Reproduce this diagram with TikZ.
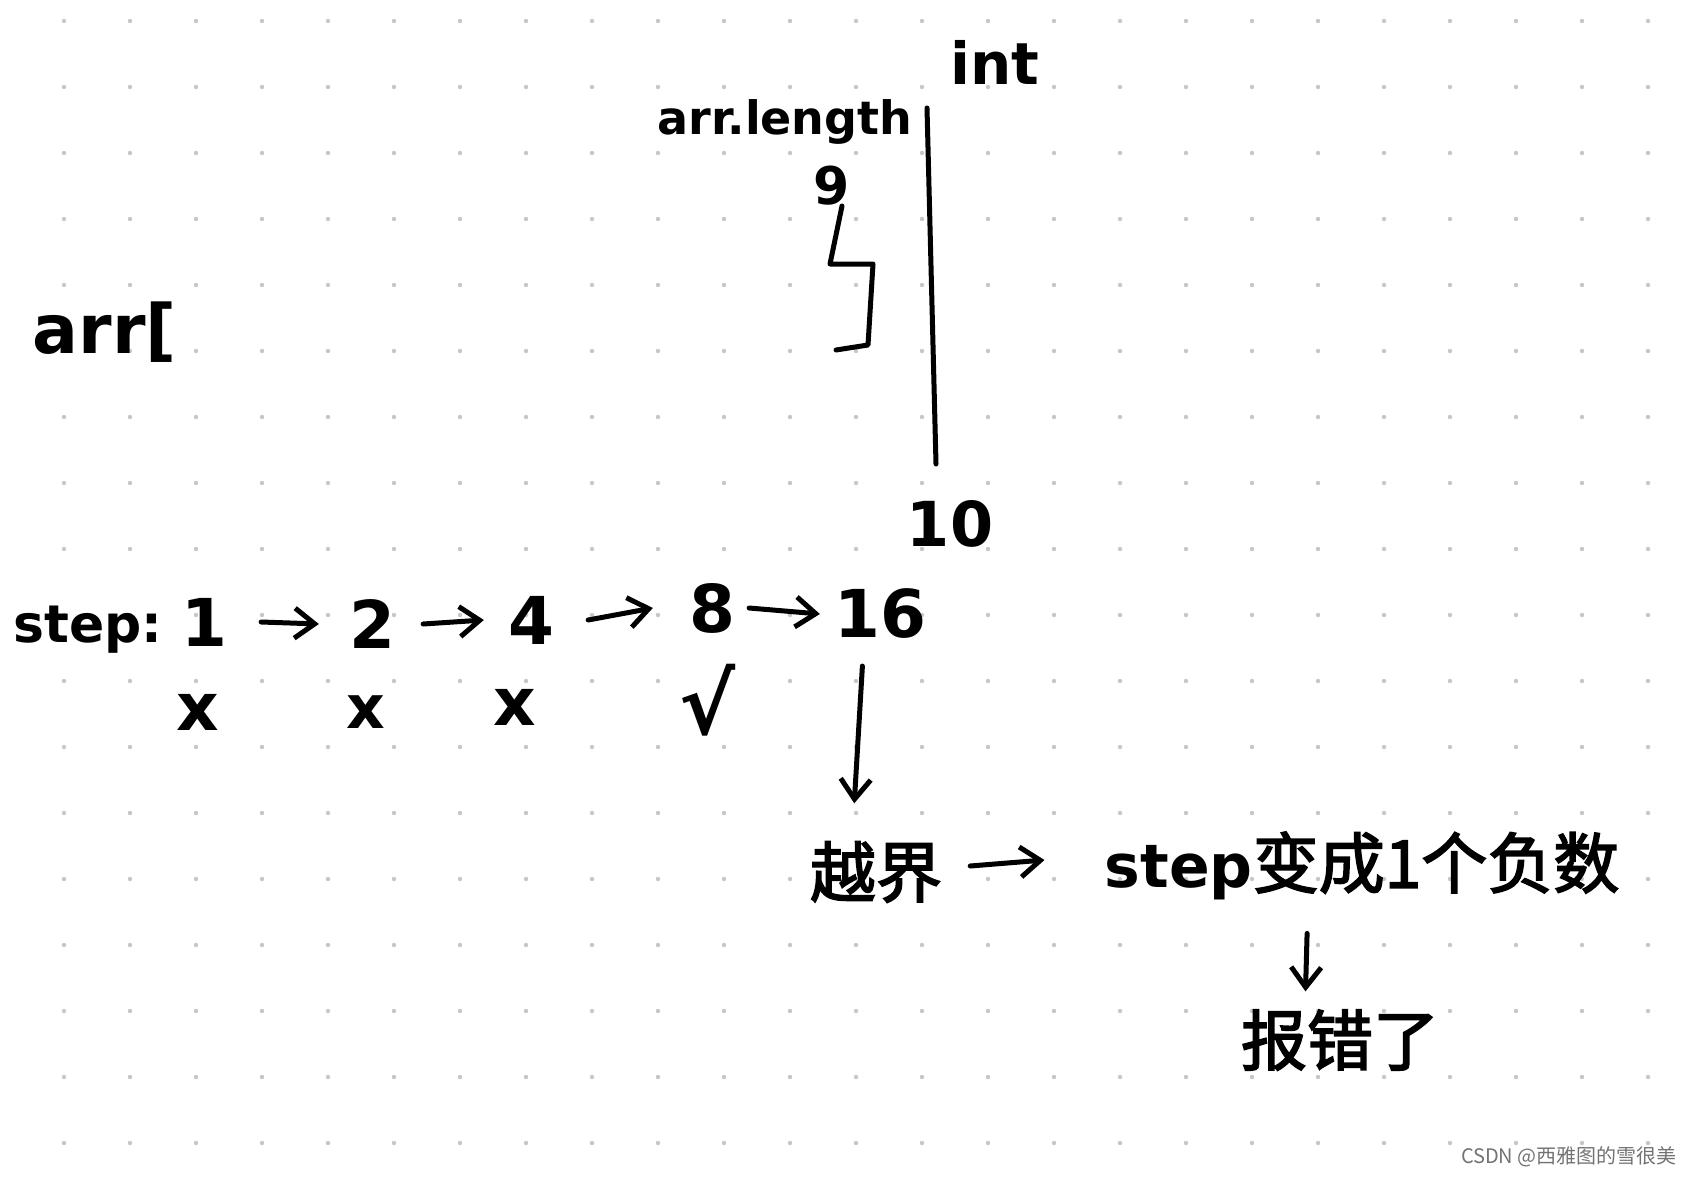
\documentclass[tikz,border=0pt]{standalone}
\usepackage{fontspec}
\setmainfont{DejaVu Sans}
\newfontfamily\cjk[FakeBold=2.5]{Noto Sans CJK SC}
\newfontfamily\cjkwm{Noto Sans CJK SC}
\usetikzlibrary{arrows.meta,calc}
\begin{document}
\begin{tikzpicture}[x=1pt,y=-1pt,
  hand/.style={inner sep=0pt, font=\fontsize{#1}{#1}\selectfont\bfseries},
  hand/.default=50,
  chn/.style={inner sep=0pt, font=\fontsize{66}{66}\selectfont\cjk},
  ink/.style={line width=5pt, line cap=round, line join=round},
  arr/.style={ink, -{Straight Barb[length=20pt,width=30pt]}},
  griddot/.style={fill=black!22}
]
\useasboundingbox (0,0) rectangle (1691,1177);
\fill[white] (0,0) rectangle (1691,1177);
% dot grid
\foreach \i in {0,...,25}{
  \foreach \j in {0,...,17}{
    \fill[griddot] ({-2+66*\i},{21+66*\j}) circle (2.2pt);
  }
}
% top part
\node[hand=68] (arr) at (105,332) {arr[};
\node[hand=46] (len) at (785,122) {arr.length};
\node[hand=58] (int) at (995,62) {int};
\node[hand=52] (nine) at (832,186) {9};
\node[hand=62] (ten) at (950,524) {10};
\draw[ink] (927,108) -- (936,464);
\draw[ink] (842,206) -- (830,264) -- (873,264) -- (868,345) -- (836,350);
% step row
\node[hand=52] (step) at (88,630) {step:};
\node[hand=66] (n1) at (204,622) {1};
\node[hand=66] (n2) at (372,624) {2};
\node[hand=66] (n4) at (531,620) {4};
\node[hand=66] (n8) at (712,608) {8};
\node[hand=66] (n16) at (880,614) {16};
\draw[arr] ([xshift=34pt]n1.east) -- ([xshift=-30pt]n2.west);
\draw[arr] ([xshift=28pt]n2.east) -- ([xshift=-24pt]n4.west);
\draw[arr] ([xshift=34pt]n4.east) -- ([xshift=-36pt]n8.west);
\draw[arr] ([xshift=14pt]n8.east) -- ([xshift=-14pt]n16.west);
\node[hand=66] (x1) at (198,712) {x};
\node[hand=60] (x2) at (366,712) {x};
\node[hand=66] (x3) at (515,707) {x};
\node[hand=84] (ok) at (708,700) {√};
% bottom
\node[chn] (yj) at (876,872) {越界};
\node[inner sep=0pt] (res) at (1362,866) {{\fontsize{60}{60}\selectfont\bfseries step}{\fontsize{66}{66}\selectfont\cjk 变成1个负数}};
\node[chn] (err) at (1340,1040) {报错了};
\draw[arr, shorten <=27pt, shorten >=38pt] ([xshift=-16pt]n16.south) -- ([xshift=-24pt]yj.north);
\draw[arr] ([xshift=28pt,yshift=6pt]yj.east) -- ([xshift=-60pt,yshift=6pt]res.west);
\draw[arr, shorten <=33pt, shorten >=18pt] ([xshift=-54pt]res.south) -- ([xshift=-35pt]err.north);
\node[anchor=east, inner sep=0pt, text=black!55, font=\fontsize{20}{20}\selectfont\cjkwm] (wm) at (1677,1157) {CSDN @西雅图的雪很美};
\end{tikzpicture}
\end{document}
